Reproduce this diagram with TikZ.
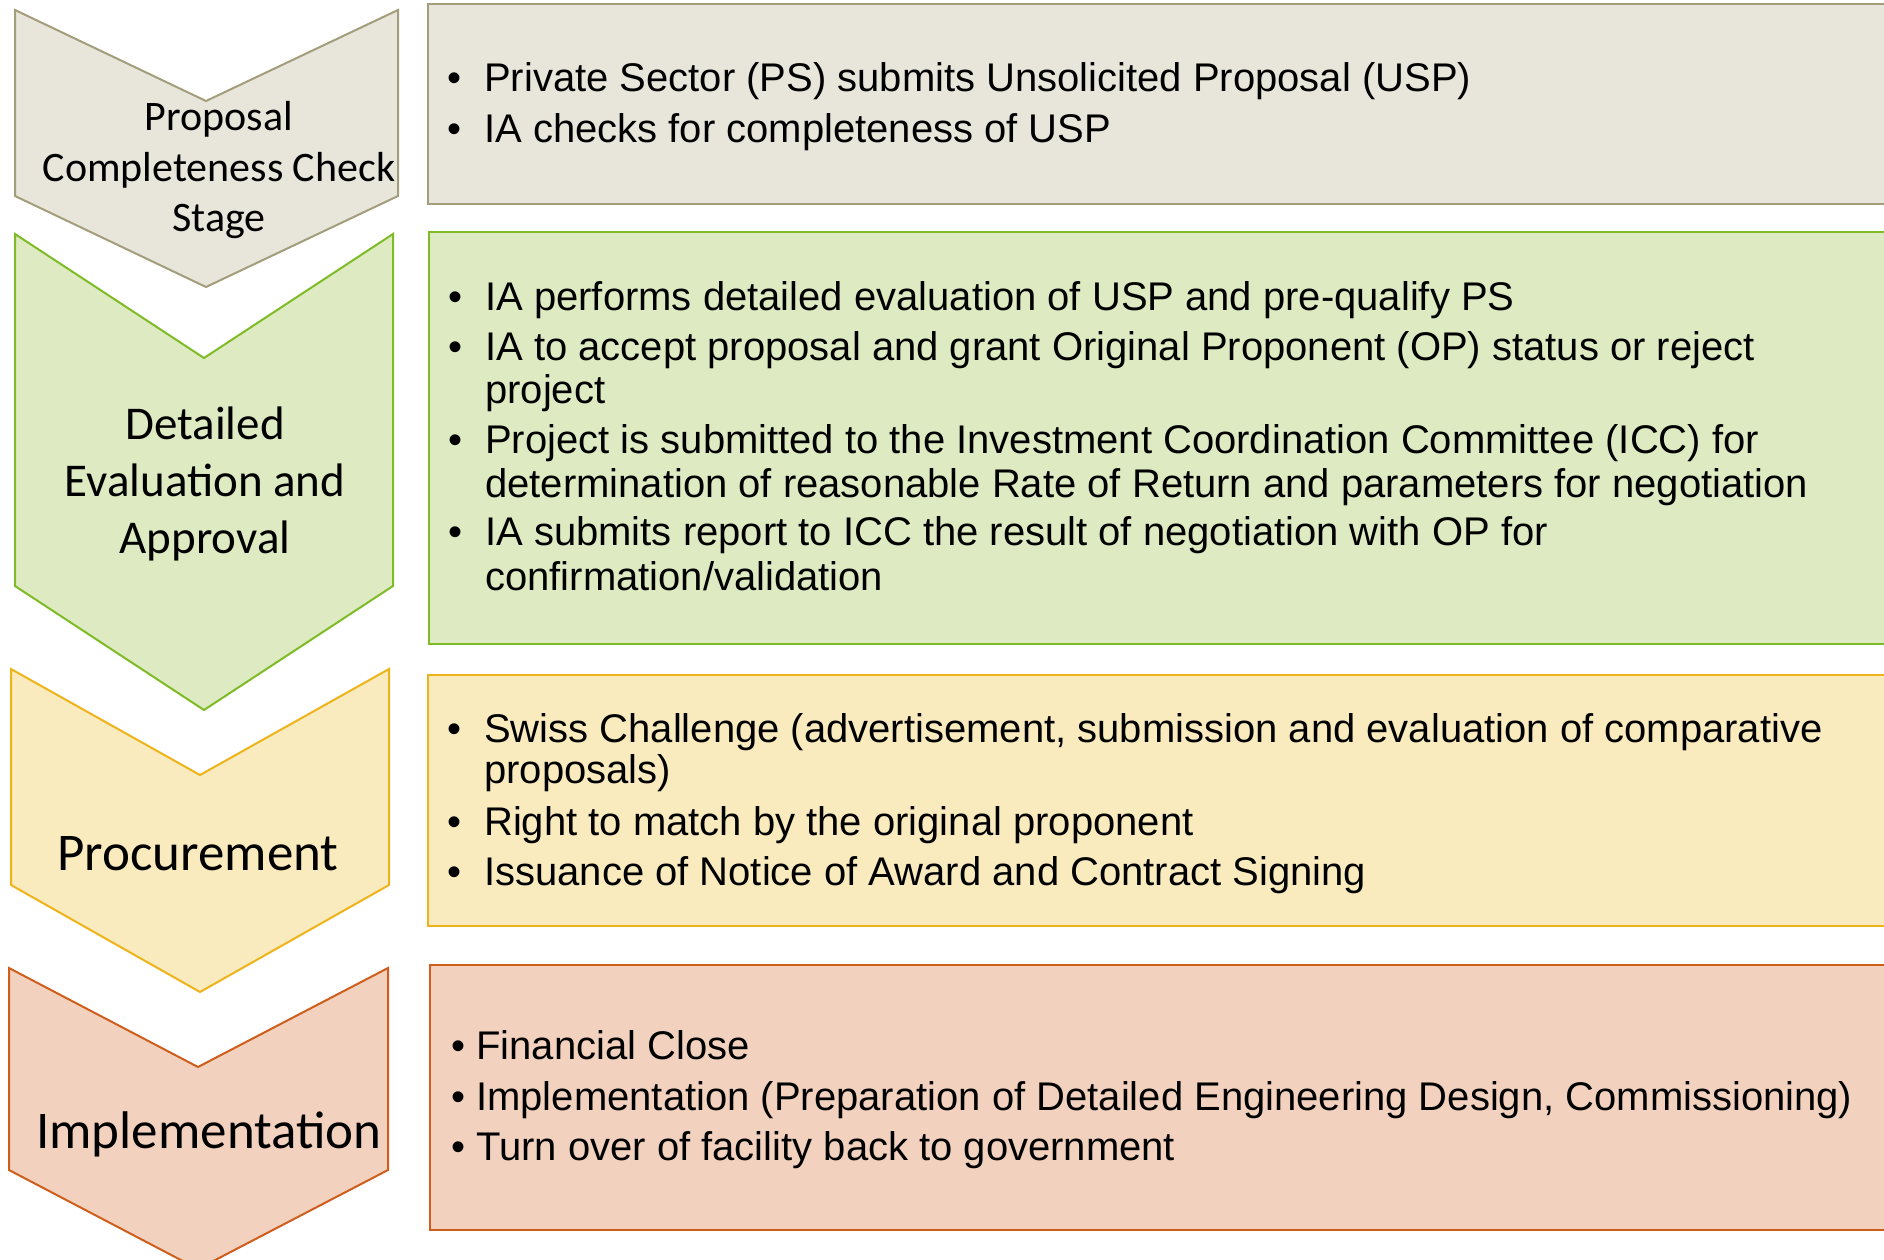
\documentclass[tikz,border=0pt]{standalone}
\usepackage{fontspec}
\setmainfont{Liberation Sans}
\newfontfamily\chevfont{Carlito}
\definecolor{grayfill}{HTML}{E8E6DB}
\definecolor{grayline}{HTML}{A39D7B}
\definecolor{greenfill}{HTML}{DEEBC2}
\definecolor{greenline}{HTML}{7EBB26}
\definecolor{yellowfill}{HTML}{FAEBBF}
\definecolor{yellowline}{HTML}{EEB31A}
\definecolor{orangefill}{HTML}{F2D2BE}
\definecolor{orangeline}{HTML}{CF5D1C}
% bullet hung to the left of the first line of an item
\newcommand\itemdot[1][23]{\llap{\char"2022\hspace{#1pt}}}
\begin{document}
\begin{tikzpicture}[x=1pt,y=-1pt,
  stage/.style={line width=2pt, line join=miter},
  panel/.style={line width=2pt},
  chevlabel/.style={inner sep=0pt, anchor=base},
  itemline/.style={inner sep=0pt, anchor=base west, font=\fontsize{40}{44}\selectfont},
]
\useasboundingbox (0,0) rectangle (1884,1260);
\clip (0,0) rectangle (1884,1260);

% ---- stage chevrons ----
\draw[stage, fill=grayfill, draw=grayline]
  (15,10) -- (206,101) -- (398,10) -- (398,196) -- (206,287) -- (15,196) -- cycle;
\draw[stage, fill=greenfill, draw=greenline]
  (15,234) -- (204,358) -- (393,234) -- (393,586) -- (204,710) -- (15,586) -- cycle;
\draw[stage, fill=yellowfill, draw=yellowline]
  (11,669) -- (200,775) -- (389,669) -- (389,885) -- (200,992) -- (11,885) -- cycle;
\draw[stage, fill=orangefill, draw=orangeline]
  (9,968) -- (198,1067) -- (388,968) -- (388,1170) -- (198,1269) -- (9,1170) -- cycle;

% ---- stage labels ----
\begin{scope}[every node/.append style={font=\chevfont\fontsize{42}{51}\selectfont}]
  \node[chevlabel] (s1a) at (219,131) {Proposal};
  \node[chevlabel] (s1b) at (219,182) {Completeness Check};
  \node[chevlabel] (s1c) at (219,232) {Stage};
\end{scope}
\begin{scope}[every node/.append style={font=\chevfont\fontsize{47}{57}\selectfont}]
  \node[chevlabel] (s2a) at (205,439) {Detailed};
  \node[chevlabel] (s2b) at (205,496) {Evaluation and};
  \node[chevlabel] (s2c) at (205,553) {Approval};
\end{scope}
\node[chevlabel, font=\chevfont\fontsize{53}{64}\selectfont] (s3) at (198,870) {Procurement};
\node[chevlabel, font=\chevfont\fontsize{53}{64}\selectfont] (s4) at (209,1148) {Implementation};

% ---- description panels ----
\draw[panel, fill=grayfill, draw=grayline] (428,4) rectangle (1900,204);
\draw[panel, fill=greenfill, draw=greenline] (429,232) rectangle (1900,644);
\draw[panel, fill=yellowfill, draw=yellowline] (428,675) rectangle (1900,926);
\draw[panel, fill=orangefill, draw=orangeline] (430,965) rectangle (1900,1230);

% proposal stage items
\node[itemline] (p1) at (484,92) {\itemdot Private Sector (PS) submits Unsolicited Proposal (USP)};
\node[itemline] (p2) at (484,143) {\itemdot IA checks for completeness of USP};

% evaluation stage items
\node[itemline] (e1) at (485,310) {\itemdot IA performs detailed evaluation of USP and pre-qualify PS};
\node[itemline] (e2) at (485,360) {\itemdot IA to accept proposal and grant Original Proponent (OP) status or reject};
\node[itemline] (e2b) at (485,403) {project};
\node[itemline] (e3) at (485,453) {\itemdot Project is submitted to the Investment Coordination Committee (ICC) for};
\node[itemline] (e3b) at (485,497) {determination of reasonable Rate of Return and parameters for negotiation};
\node[itemline] (e4) at (485,545) {\itemdot IA submits report to ICC the result of negotiation with OP for};
\node[itemline] (e4b) at (485,590) {confirmation/validation};

% procurement items
\node[itemline] (r1) at (484,742) {\itemdot Swiss Challenge (advertisement, submission and evaluation of comparative};
\node[itemline] (r1b) at (484,783) {proposals)};
\node[itemline] (r2) at (484,835) {\itemdot Right to match by the original proponent};
\node[itemline] (r3) at (484,885) {\itemdot Issuance of Notice of Award and Contract Signing};

% implementation items
\node[itemline] (i1) at (465,1059) {\itemdot[0] Financial Close};
\node[itemline] (i2) at (465,1110) {\itemdot[0] Implementation (Preparation of Detailed Engineering Design, Commissioning)};
\node[itemline] (i3) at (465,1160) {\itemdot[0] Turn over of facility back to government};
\end{tikzpicture}
\end{document}
